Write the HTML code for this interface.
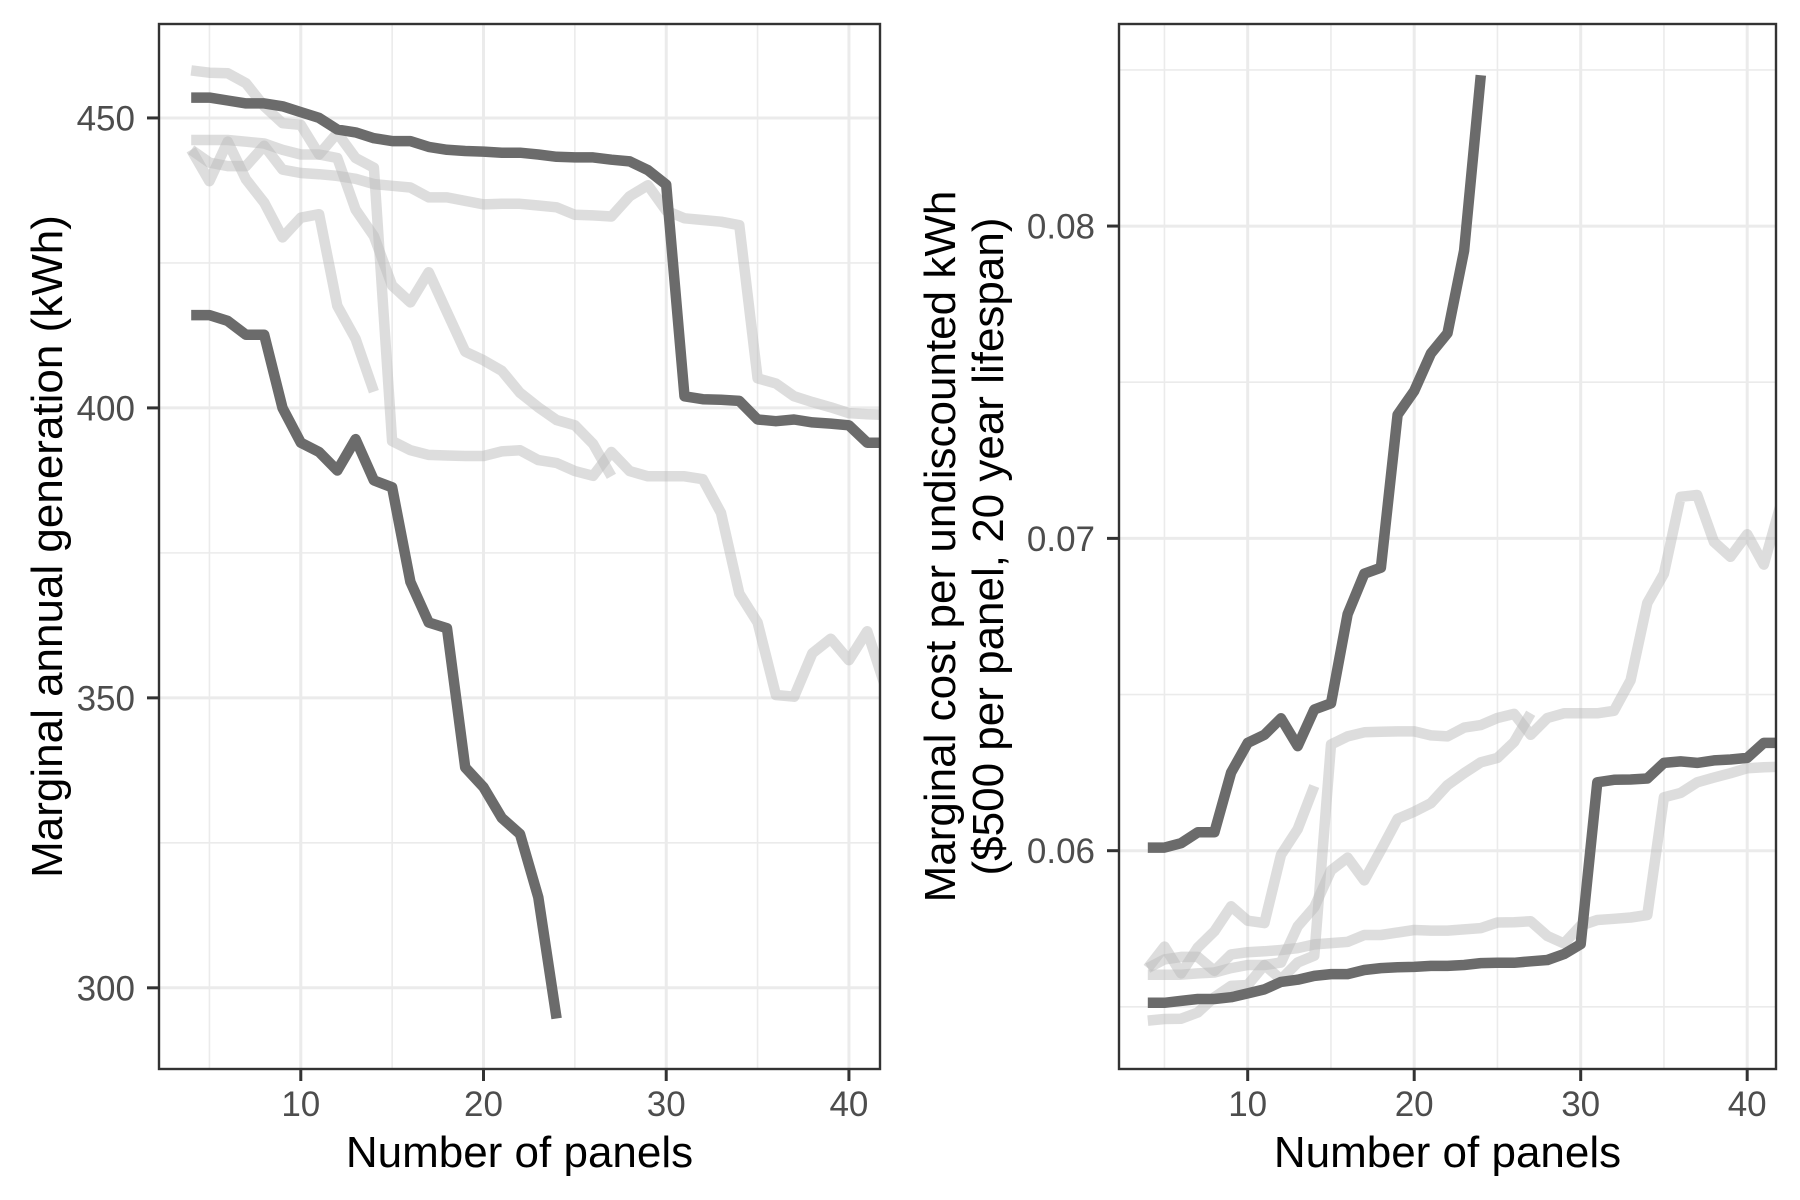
<!DOCTYPE html>
<html><head><meta charset="utf-8"><style>
html,body{margin:0;padding:0;background:#fff;}
svg{display:block;font-family:"Liberation Sans",Arial,sans-serif;}
</style></head><body>
<svg id="chart" width="1800" height="1200" viewBox="0 0 1800 1200" xmlns="http://www.w3.org/2000/svg">
<rect x="0" y="0" width="1800" height="1200" fill="#fff"/>
<g id="left"></g>
<g id="right"></g>
<text x="519.5" y="1167" font-size="44" text-anchor="middle" fill="#000">Number of panels</text>
<text x="1447.5" y="1167" font-size="44" text-anchor="middle" fill="#000">Number of panels</text>
<text transform="translate(62,546.5) rotate(-90)" font-size="44" text-anchor="middle" fill="#000">Marginal annual generation (kWh)</text>
<text transform="translate(955,546.5) rotate(-90)" font-size="44" text-anchor="middle" fill="#000">Marginal cost per undiscounted kWh</text>
<text transform="translate(1003,546.5) rotate(-90)" font-size="44" text-anchor="middle" fill="#000">($500 per panel, 20 year lifespan)</text>
</svg>
<script>
// ---- data ----
const xTicks = [10, 20, 30, 40];
const xMinor = [5, 15, 25, 35];
const genTicks = [300, 350, 400, 450];
const genMinor = [325, 375, 425];
const costTicks = [0.06, 0.07, 0.08];
const costTickLabels = ["0.06", "0.07", "0.08"];
const costMinor = [0.055, 0.065, 0.075, 0.085];

const genDarkA = [453.5,453.5,453,452.5,452.5,452,451,450,448,447.5,446.5,446,446,445,444.5,444.3,444.2,444,444,443.7,443.3,443.2,443.2,442.8,442.5,441,438.5,402,401.5,401.4,401.2,398,397.7,398,397.5,397.3,397,394,394];
const genDarkB = [416,416,415,412.6,412.6,400,394,392.4,389.2,394.6,387.5,386.3,370,363,362,338,334.6,329.3,326.5,315.6,294.7];
const genLightA = [458.2,457.8,457.7,456,452,449.1,448.8,443.7,447.4,443.1,441.4,394.3,392.7,391.9,391.8,391.7,391.7,392.5,392.7,391,390.5,389.1,388.3,392.4,389.1,388.2,388.2,388.2,387.7,381.9,368,363,350.5,350.2,357.7,360.2,356.5,361.5,351.8];
const genLightB = [446.2,446.2,446.2,445.9,445.6,444.5,443.7,443.7,443.1,434.2,429.6,421.1,418.2,423.4,416.5,409.7,408.2,406.4,402.6,400.1,397.9,397,393.8,388.2];
const genLightC = [444.5,439.1,445.9,439.4,435.4,429.4,432.8,433.4,417.6,411.9,402.8];
const genLightD = [444.5,442.3,441.7,441.7,445.2,441.1,440.5,440.3,440,439.5,438.6,438.3,438,436.3,436.3,435.7,435.1,435.2,435.2,434.9,434.6,433.3,433.2,433,436.5,438.4,434,432.7,432.4,432.1,431.5,405.1,404.2,402,401,400.1,399.1,398.9,398.8];

const costDarkA = [0.05513,0.05513,0.05519,0.05525,0.05525,0.05531,0.05543,0.05556,0.05580,0.05587,0.05599,0.05605,0.05605,0.05618,0.05624,0.05627,0.05628,0.05631,0.05631,0.05634,0.05640,0.05641,0.05641,0.05646,0.05650,0.05669,0.05701,0.06219,0.06227,0.06228,0.06231,0.06281,0.06286,0.06281,0.06289,0.06292,0.06297,0.06345,0.06345];
const costDarkB = [0.06010,0.06010,0.06024,0.06059,0.06059,0.0625,0.06345,0.06371,0.06424,0.06335,0.06452,0.06472,0.06757,0.06887,0.06906,0.07396,0.07472,0.07592,0.07657,0.07921,0.08483];
const costLightA = [0.05456,0.05461,0.05462,0.05482,0.05531,0.05567,0.05570,0.05634,0.05588,0.05642,0.05664,0.06340,0.06366,0.06379,0.06381,0.06382,0.06382,0.06369,0.06366,0.06394,0.06402,0.06425,0.06438,0.06371,0.06425,0.06440,0.06440,0.06440,0.06448,0.06546,0.06793,0.06887,0.07133,0.07139,0.06989,0.06941,0.07013,0.06916,0.07106];
const costLightB = [0.05603,0.05603,0.05603,0.05607,0.05610,0.05624,0.05634,0.05634,0.05642,0.05758,0.05819,0.05937,0.05978,0.05905,0.06002,0.06102,0.06125,0.06152,0.06210,0.06248,0.06283,0.06297,0.06348,0.06440];
const costLightC = [0.05624,0.05693,0.05607,0.05690,0.05742,0.05822,0.05776,0.05768,0.05987,0.06069,0.06207];
const costLightD = [0.05624,0.05652,0.05660,0.05660,0.05615,0.05668,0.05675,0.05678,0.05682,0.05688,0.05700,0.05704,0.05708,0.05730,0.05730,0.05738,0.05746,0.05744,0.05744,0.05748,0.05752,0.05770,0.05771,0.05774,0.05727,0.05703,0.05760,0.05778,0.05782,0.05786,0.05794,0.06171,0.06185,0.06219,0.06234,0.06248,0.06264,0.06267,0.06269];
const startPanel = 4;

// ---- drawing ----
const NS = "http://www.w3.org/2000/svg";
function mk(tag, parent, attrs) {
  const e = document.createElementNS(NS, tag);
  for (const k in attrs) e.setAttribute(k, attrs[k]);
  parent.appendChild(e);
  return e;
}

function drawPanel(gid, box, xDom, yDom, yMaj, yMajLbl, yMin, series, clipId) {
  const g = document.getElementById(gid);
  const sx = v => box.l + (v - xDom[0]) / (xDom[1] - xDom[0]) * (box.r - box.l);
  const sy = v => box.b - (v - yDom[0]) / (yDom[1] - yDom[0]) * (box.b - box.t);
  const defs = mk('defs', g, {});
  const cp = mk('clipPath', defs, {id: clipId});
  mk('rect', cp, {x: box.l, y: box.t, width: box.r - box.l, height: box.b - box.t});
  const grid = mk('g', g, {});
  
  
  yMin.forEach(v => { const y = sy(v); if (y > box.t && y < box.b) {
    const l = mk('line', grid, {x1: box.l, x2: box.r, y1: y, y2: y, stroke: '#ebebeb', 'stroke-width': 1.6});
    
     } });
  xMinor.forEach(v => { const x = sx(v);
    const l = mk('line', grid, {x1: x, x2: x, y1: box.t, y2: box.b, stroke: '#ebebeb', 'stroke-width': 1.6});
    
     });
  yMaj.forEach(v => { const y = sy(v);
    const l = mk('line', grid, {x1: box.l, x2: box.r, y1: y, y2: y, stroke: '#ebebeb', 'stroke-width': 3});
    
     });
  xTicks.forEach(v => { const x = sx(v);
    const l = mk('line', grid, {x1: x, x2: x, y1: box.t, y2: box.b, stroke: '#ebebeb', 'stroke-width': 3});
    
     });
  const lines = mk('g', g, {'clip-path': 'url(#' + clipId + ')'});
  series.forEach(s => {
    const pts = s.vals.map((v, i) => sx(startPanel + i).toFixed(1) + ',' + sy(v).toFixed(1)).join(' ');
    const p = mk('polyline', lines, {points: pts, fill: 'none', stroke: s.dark ? '#6b6b6b' : '#bbbbbb',
      'stroke-opacity': s.dark ? 1 : 0.5, 'stroke-width': 10.5, 'stroke-linejoin': 'round', 'stroke-linecap': 'butt'});
    
    
  });
  const border = mk('rect', g, {x: box.l, y: box.t, width: box.r - box.l, height: box.b - box.t, fill: 'none', stroke: '#333', 'stroke-width': 2.4});
  
  
  yMaj.forEach((v, i) => { const y = sy(v);
    const t = mk('line', g, {x1: box.l - 12, x2: box.l, y1: y, y2: y, stroke: '#333', 'stroke-width': 3});
    
    
    const lb = mk('text', g, {x: box.l - 24, y: y + 12.5, 'font-size': 35, 'text-anchor': 'end', fill: '#4d4d4d'});
    lb.textContent = yMajLbl[i];
    
     });
  xTicks.forEach(v => { const x = sx(v);
    const t = mk('line', g, {x1: x, x2: x, y1: box.b, y2: box.b + 12, stroke: '#333', 'stroke-width': 3});
    
    
    const lb = mk('text', g, {x: x, y: box.b + 47, 'font-size': 35, 'text-anchor': 'middle', fill: '#4d4d4d'});
    lb.textContent = String(v);
    
     });
}

drawPanel('left', {l: 159, r: 880, t: 24, b: 1069}, [2.24, 41.7], [286.0, 466.2],
  genTicks, genTicks.map(String), genMinor, [
    {name: 'gen-light-a', vals: genLightA, dark: false},
    {name: 'gen-light-b', vals: genLightB, dark: false},
    {name: 'gen-light-c', vals: genLightC, dark: false},
    {name: 'gen-light-d', vals: genLightD, dark: false},
    {name: 'gen-dark-a', vals: genDarkA, dark: true},
    {name: 'gen-dark-b', vals: genDarkB, dark: true}
  ], 'clipL');
drawPanel('right', {l: 1119, r: 1776, t: 24, b: 1069}, [2.27, 41.73], [0.05301, 0.08647],
  costTicks, costTickLabels, costMinor, [
    {name: 'cost-light-a', vals: costLightA, dark: false},
    {name: 'cost-light-b', vals: costLightB, dark: false},
    {name: 'cost-light-c', vals: costLightC, dark: false},
    {name: 'cost-light-d', vals: costLightD, dark: false},
    {name: 'cost-dark-a', vals: costDarkA, dark: true},
    {name: 'cost-dark-b', vals: costDarkB, dark: true}
  ], 'clipR');
</script>
</body></html>
